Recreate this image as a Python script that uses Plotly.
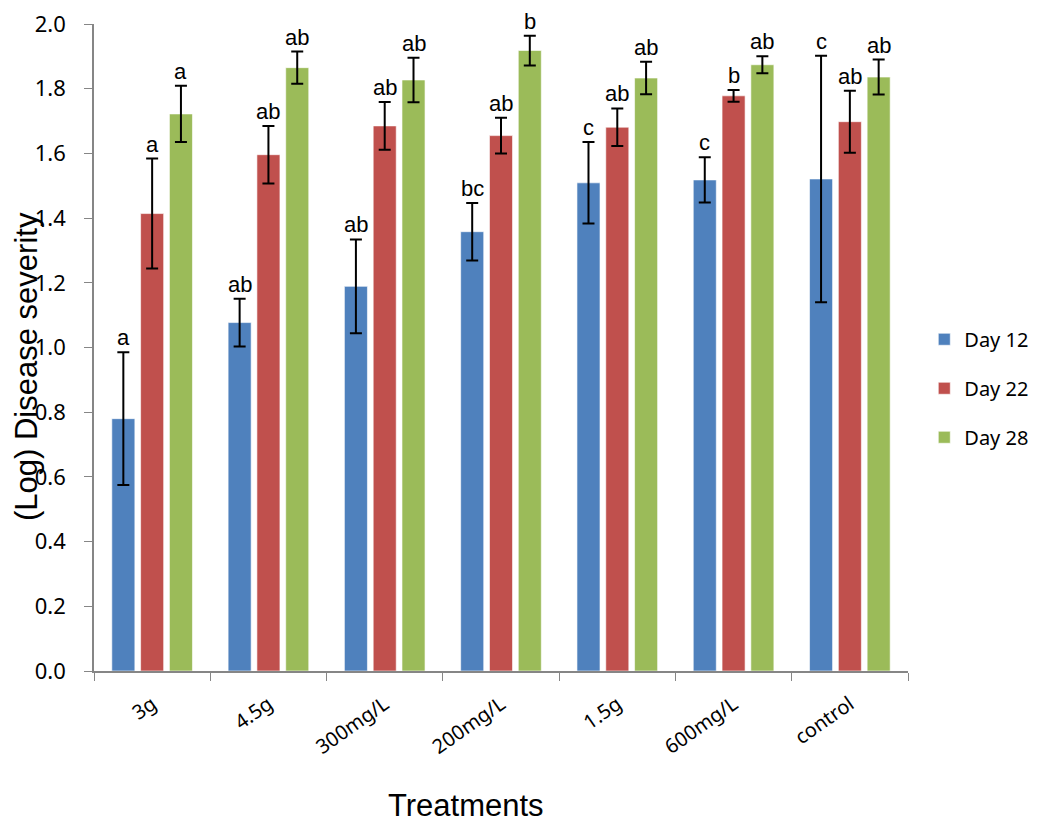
import plotly.graph_objects as go

categories = ["3g", "4.5g", "300mg/L", "200mg/L", "1.5g", "600mg/L", "control"]
series_names = ["Day 12", "Day 22", "Day 28"]

day12 = [0.78, 1.077, 1.189, 1.358, 1.509, 1.518, 1.521]
day22 = [1.414, 1.596, 1.685, 1.655, 1.681, 1.778, 1.698]
day28 = [1.722, 1.865, 1.827, 1.918, 1.833, 1.874, 1.836]

err12 = [0.205, 0.074, 0.145, 0.089, 0.126, 0.07, 0.381]
err22 = [0.17, 0.089, 0.074, 0.055, 0.058, 0.018, 0.096]
err28 = [0.087, 0.05, 0.069, 0.046, 0.05, 0.026, 0.054]

letters12 = ["a", "ab", "ab", "bc", "c", "c", "c"]
letters22 = ["a", "ab", "ab", "ab", "ab", "b", "ab"]
letters28 = ["a", "ab", "ab", "b", "ab", "ab", "ab"]

colors = ["#4F81BD", "#C0504D", "#9BBB59"]

values = [day12, day22, day28]
errors = [err12, err22, err28]
letters = [letters12, letters22, letters28]

# layout geometry (figure pixels; page adds 8px body margin)
ML, MR, MT, MB = 86, 140, 16, 161
W, H = 1040, 824
PW, PH = W - ML - MR, H - MT - MB

fig = go.Figure()
for i in range(3):
    fig.add_trace(go.Bar(
        x=categories, y=values[i], name=series_names[i],
        marker=dict(color=colors[i], line=dict(color="rgba(255,255,255,0.6)", width=1)),
        error_y=dict(type="data", array=errors[i], visible=True,
                     color="black", thickness=2, width=6),
        legendgroup=f"g{i}",
    ))

offsets = [-0.2476, 0.0, 0.2476]
for i in range(3):
    for j in range(len(categories)):
        fig.add_annotation(
            x=j + offsets[i], y=values[i][j] + errors[i][j], xref="x", yref="y",
            text=letters[i][j], showarrow=False, yanchor="bottom", yshift=0,
            font=dict(family="Liberation Sans, Arial", size=22, color="black"),
        )

fig.add_annotation(
    x=(18 - ML) / PW, y=(MT + PH - 359) / PH, xref="paper", yref="paper",
    text="(Log) Disease severity", textangle=-90, showarrow=False,
    xanchor="center", yanchor="middle",
    font=dict(family="Liberation Sans, Arial", size=31, color="black"),
)

fig.add_annotation(
    x=(458 - ML) / PW, y=(MT + PH - 798) / PH, xref="paper", yref="paper",
    text="Treatments", showarrow=False, xanchor="center", yanchor="middle",
    font=dict(family="Liberation Sans, Arial", size=31, color="black"),
)

fig.update_layout(
    width=W, height=H,
    margin=dict(l=ML, r=MR, t=MT, b=MB, autoexpand=False),
    plot_bgcolor="white", paper_bgcolor="white",
    barmode="group", bargap=0.257, bargroupgap=0.2,
    showlegend=True,
    legend=dict(x=1.02, y=0.437, xanchor="left", yanchor="middle",
                font=dict(family="Noto Sans, Open Sans", size=20, color="black"),
                tracegroupgap=20, itemwidth=30),
    xaxis=dict(
        automargin=False, ticklabeloverflow="allow",
        showline=True, linecolor="#868686", linewidth=1.5,
        ticks="outside", ticklen=8, tickcolor="#868686", tickson="boundaries",
        tickangle=-35, ticklabelstandoff=12,
        tickfont=dict(family="Noto Sans, Open Sans", size=20, color="black"),
        showgrid=False, range=[-0.5, 6.5],
    ),
    yaxis=dict(
        automargin=False, ticklabeloverflow="allow",
        range=[0, 2.0], dtick=0.2, tickformat=".1f",
        showline=True, linecolor="#868686", linewidth=1.5,
        ticks="outside", ticklen=8, tickcolor="#868686", ticklabelstandoff=14,
        tickfont=dict(family="Noto Sans, Open Sans", size=22, color="black"),
        showgrid=False, zeroline=False,
    ),
)

fig.write_html("out.html")
